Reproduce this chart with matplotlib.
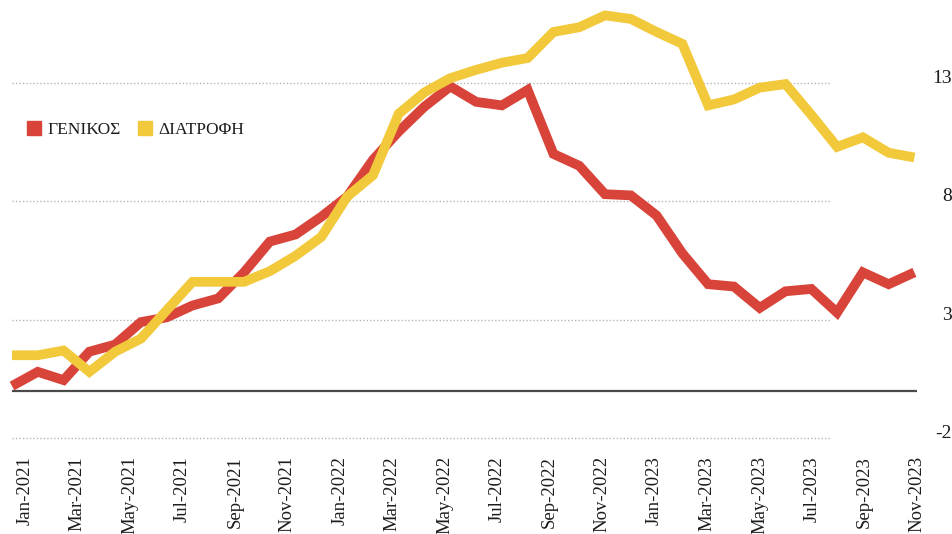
import matplotlib
matplotlib.use("Agg")
import matplotlib.pyplot as plt
import numpy as np
from matplotlib.lines import Line2D

# monthly values, Jan 2021 .. Dec 2023
GENIKOS = [0.2, 0.8, 0.45, 1.65, 1.95, 2.9, 3.1, 3.6, 3.9, 5.0,
           6.3, 6.6, 7.35, 8.2, 9.75, 10.95, 12.0, 12.85, 12.2, 12.05,
           12.7, 10.0, 9.5, 8.3, 8.25, 7.4, 5.8, 4.5, 4.4, 3.5,
           4.2, 4.3, 3.3, 5.0, 4.5, 5.0]
DIATROFI = [1.5, 1.5, 1.7, 0.8, 1.65, 2.2, 3.4, 4.6, 4.6, 4.6,
            5.05, 5.7, 6.5, 8.2, 9.1, 11.7, 12.6, 13.2, 13.55, 13.85,
            14.05, 15.15, 15.35, 15.85, 15.7, 15.15, 14.65, 12.05, 12.3, 12.8,
            12.95, 11.65, 10.3, 10.7, 10.05, 9.85]

TICK_LABELS = ["Jan-2021", "Mar-2021", "May-2021", "Jul-2021", "Sep-2021", "Nov-2021",
               "Jan-2022", "Mar-2022", "May-2022", "Jul-2022", "Sep-2022", "Nov-2022",
               "Jan-2023", "Mar-2023", "May-2023", "Jul-2023", "Sep-2023", "Nov-2023"]
Y_TICKS = [-2, 3, 8, 13]

SERIES_NAMES = ["ΓΕΝΙΚΟΣ", "ΔΙΑΤΡΟΦΗ"]
RED = "#d8443a"
YELLOW = "#f1c93b"
TEXT_COLOR = "#1c1c1c"

plt.rcParams["font.family"] = ["Liberation Serif", "DejaVu Serif"]

W, H = 953, 534
fig = plt.figure(figsize=(W / 100, H / 100), dpi=100)
ax = fig.add_axes([12 / W, 1 - 445 / H, (917 - 12) / W, 445 / H])

x = np.arange(len(GENIKOS))
ax.set_xlim(0, len(GENIKOS) - 1)
ax.set_ylim(-2.29, 16.5)

# dotted grid (stops short of the right end) and solid zero line
ax.hlines(Y_TICKS, 0, 31.75, colors="#b5b5b5", linestyles=(0, (1, 1.5)), lw=1.0, zorder=1)
ax.axhline(0, color="#4a4a4a", lw=1.6, zorder=2)

ax.plot(x, GENIKOS, color=RED, lw=7, solid_capstyle="butt", solid_joinstyle="miter",
        zorder=3, clip_on=False)
ax.plot(x, DIATROFI, color=YELLOW, lw=7, solid_capstyle="butt", solid_joinstyle="miter",
        zorder=4, clip_on=False)

for s in ax.spines.values():
    s.set_visible(False)

# x labels sit a little right of the data points in the original
ax.set_xticks(np.linspace(0.5, 35.1, len(TICK_LABELS)))
ax.set_xticklabels(TICK_LABELS, rotation=90, fontsize=13.5, color=TEXT_COLOR)
ax.tick_params(axis="x", length=0, pad=8)

ax.yaxis.tick_right()
ax.set_yticks(Y_TICKS)
ax.set_yticklabels([str(v) for v in Y_TICKS], fontsize=14, color=TEXT_COLOR)
ax.tick_params(axis="y", length=0, pad=25)
for lab in ax.get_yticklabels():
    lab.set_horizontalalignment("right")
    lab.set_verticalalignment("baseline")

handles = [Line2D([], [], marker="s", ls="none", color=c, markersize=10.5)
           for c in (RED, YELLOW)]
fig.legend(handles, SERIES_NAMES, loc="center left", bbox_to_anchor=(17 / W, 1 - 130 / H),
           ncol=2, frameon=False, fontsize=12.5, handlelength=1.0, handletextpad=0.25,
           columnspacing=0.9, borderpad=0, labelcolor=TEXT_COLOR)

fig.savefig("out.png", dpi=100)
